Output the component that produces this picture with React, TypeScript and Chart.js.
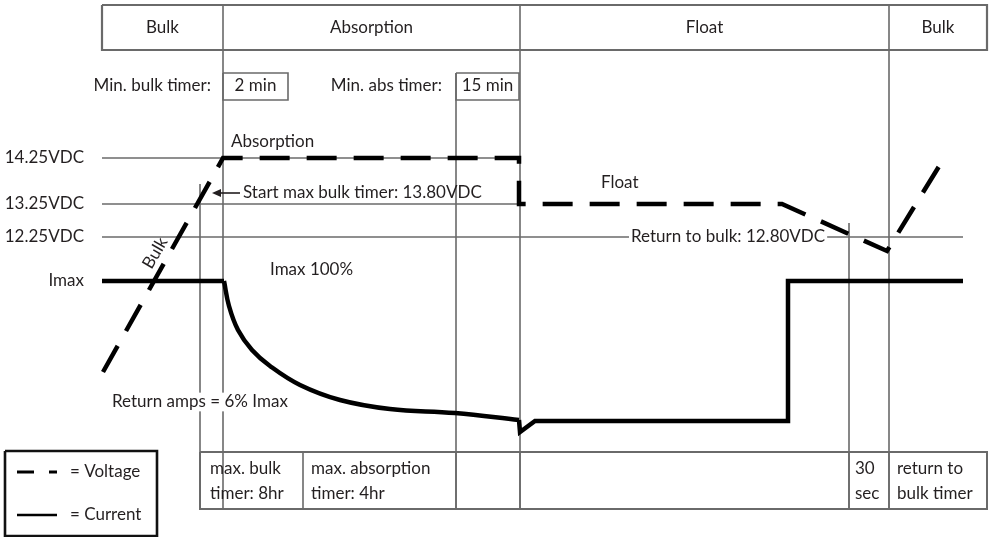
import React, { useEffect, useRef } from "react";
import { Chart, registerables } from "chart.js";
Chart.register(...registerables);

const W = 992;
const H = 537;

// ---- diagram data (time axis t, level axis v; both in diagram units) ----
const phaseNames = ["Bulk", "Absorption", "Float", "Bulk"];
const phaseEdges = [102, 223, 520, 889, 987];
const phaseBandV = [5, 50];

const levelLabels = ["14.25VDC", "13.25VDC", "12.25VDC", "Imax"];
const levelV = [158, 204, 237, 281];
const levelLineStart = [102, 102, 102, null];
const levelLineEnd = [520, 520, 963, null];

const voltageT = [103, 223, 519, 519, 782, 887, 946];
const voltageV = [372, 158, 158, 204, 204, 251, 155];

const currentFlatT = [102, 224];
const currentFlatV = [281, 281];
const currentDecayT = [224, 229, 238, 252, 270, 300, 340, 390, 455, 519];
const currentDecayV = [281, 306, 330, 350, 366, 385, 400, 409, 413, 420];
const currentFloatT = [519, 520, 535, 788, 788, 963];
const currentFloatV = [420, 432, 421, 421, 281, 281];

const markerT = [200, 223, 456, 520, 849, 889];
const markerTopV = [184, 5, 73, 5, 223, 5];
const markerBottomV = 509;

const timerLabels = ["Min. bulk timer:", "Min. abs timer:"];
const timerValues = ["2 min", "15 min"];
const timerBoxT = [[223, 288], [456, 519]];
const timerBoxV = [73, 100];

const bottomBoxT = [200, 987];
const bottomBoxV = [452, 509];
const bottomDividersT = [303, 456, 520, 849, 889];
const bottomCells = [
  ["max. bulk", "timer: 8hr"],
  ["max. absorption", "timer: 4hr"],
  ["30", "sec"],
  ["return to", "bulk timer"],
];
const bottomCellT = [210, 311, 855, 897];

const legendBoxT = [5, 157];
const legendBoxV = [451, 536];
const legendLabels = ["= Voltage", "= Current"];

const TEXT = "#231f20";
const GRID = "#6a6a6a";
const FONT = "Lato, 'Open Sans', sans-serif";

const pts = (t: number[], v: number[]) => t.map((x, i) => ({ x, y: v[i] }));
const rect = (t: number[], v: number[]) => [
  { x: t[0], y: v[0] },
  { x: t[1], y: v[0] },
  { x: t[1], y: v[1] },
  { x: t[0], y: v[1] },
  { x: t[0], y: v[0] },
];

type Label = {
  text: string;
  t: number;
  v: number;
  align?: CanvasTextAlign;
  bg?: boolean;
  rot?: number;
  size?: number;
};

const labels: Label[] = [
  ...phaseNames.map((n, i) => ({ text: n, t: (phaseEdges[i] + phaseEdges[i + 1]) / 2, v: 28, align: "center" as CanvasTextAlign })),
  ...levelLabels.map((n, i) => ({ text: n, t: 84, v: levelV[i], align: "right" as CanvasTextAlign })),
  { text: timerLabels[0], t: 211, v: 86, align: "right" },
  { text: timerLabels[1], t: 442, v: 86, align: "right" },
  ...timerValues.map((n, i) => ({ text: n, t: (timerBoxT[i][0] + timerBoxT[i][1]) / 2, v: 86, align: "center" as CanvasTextAlign })),
  { text: "Absorption", t: 231, v: 142, align: "left" },
  { text: "Start max bulk timer: 13.80VDC", t: 243, v: 193, align: "left" },
  { text: "Float", t: 601, v: 183, align: "left" },
  { text: "Return to bulk: 12.80VDC", t: 631, v: 237, align: "left", bg: true },
  { text: "Imax 100%", t: 270, v: 270, align: "left" },
  { text: "Return amps = 6% Imax", t: 112, v: 402, align: "left", bg: true },
  { text: "Bulk", t: 155, v: 253, align: "center", rot: -60 },
  ...bottomCells.flatMap((c, i) => [
    { text: c[0], t: bottomCellT[i], v: 469, align: "left" as CanvasTextAlign },
    { text: c[1], t: bottomCellT[i], v: 494, align: "left" as CanvasTextAlign },
  ]),
  { text: legendLabels[0], t: 70, v: 472, align: "left" },
  { text: legendLabels[1], t: 70, v: 515, align: "left" },
];

const textPlugin = {
  id: "diagramText",
  afterDatasetsDraw(chart: any) {
    const { ctx, scales } = chart;
    const sx = scales.x;
    const sy = scales.y;
    ctx.save();
    // arrow for "Start max bulk timer"
    const ay = sy.getPixelForValue(193);
    const ax0 = sx.getPixelForValue(240);
    const ax1 = sx.getPixelForValue(212);
    ctx.strokeStyle = TEXT;
    ctx.fillStyle = TEXT;
    ctx.lineWidth = 1.6;
    ctx.beginPath();
    ctx.moveTo(ax0, ay);
    ctx.lineTo(ax1 + 6, ay);
    ctx.stroke();
    ctx.beginPath();
    ctx.moveTo(ax1, ay);
    ctx.lineTo(ax1 + 9, ay - 4);
    ctx.lineTo(ax1 + 9, ay + 4);
    ctx.closePath();
    ctx.fill();

    for (const l of labels) {
      const size = l.size ?? 17;
      ctx.font = `${size}px ${FONT}`;
      ctx.textAlign = l.align ?? "left";
      ctx.textBaseline = "middle";
      const x = sx.getPixelForValue(l.t);
      const y = sy.getPixelForValue(l.v);
      ctx.save();
      ctx.translate(x, y);
      if (l.rot) ctx.rotate((l.rot * Math.PI) / 180);
      if (l.bg) {
        const w = ctx.measureText(l.text).width;
        const left = l.align === "center" ? -w / 2 : l.align === "right" ? -w : 0;
        ctx.fillStyle = "#ffffff";
        ctx.fillRect(left - 2, -size * 0.55, w + 4, size * 1.1);
      }
      ctx.fillStyle = TEXT;
      ctx.fillText(l.text, 0, 0);
      ctx.restore();
    }
    ctx.restore();
  },
};

export default function App() {
  const ref = useRef<HTMLCanvasElement | null>(null);

  useEffect(() => {
    if (!ref.current) return;
    const thin = (data: any[], width = 1.6, color = GRID) => ({
      data,
      borderColor: color,
      borderWidth: width,
      pointRadius: 0,
      tension: 0,
      fill: false,
      borderJoinStyle: "miter",
    });
    const thinSets: any[] = [];
    thinSets.push(thin(rect([phaseEdges[0], phaseEdges[4]], phaseBandV), 2.2));
    levelV.forEach((v, i) => {
      if (levelLineStart[i] != null)
        thinSets.push(thin([{ x: levelLineStart[i], y: v }, { x: levelLineEnd[i], y: v }]));
    });
    markerT.forEach((t, i) => {
      thinSets.push(thin([{ x: t, y: markerTopV[i] }, { x: t, y: markerBottomV }]));
    });
    timerBoxT.forEach((bt) => thinSets.push(thin(rect(bt, timerBoxV))));
    thinSets.push(thin(rect(bottomBoxT, bottomBoxV), 2));
    bottomDividersT.forEach((t) =>
      thinSets.push(thin([{ x: t, y: bottomBoxV[0] }, { x: t, y: bottomBoxV[1] }]))
    );
    thinSets.push(thin(rect(legendBoxT, legendBoxV), 2.6, "#111"));

    const thick = (data: any[], dash: number[] = [], extra: any = {}) => ({
      data,
      borderColor: "#000",
      borderWidth: 4.5,
      borderDash: dash,
      borderCapStyle: "butt",
      borderJoinStyle: "miter",
      pointRadius: 0,
      fill: false,
      tension: 0,
      ...extra,
    });

    const thickSets = [
      thick(pts(voltageT, voltageV), [30, 17]),
      thick(pts(currentFlatT, currentFlatV)),
      thick(pts(currentDecayT, currentDecayV), [], { tension: 0.4, borderJoinStyle: "round" }),
      thick(pts(currentFloatT, currentFloatV)),
      thick([{ x: 17, y: 472 }, { x: 34, y: 472 }], [], { borderWidth: 3 }),
      thick([{ x: 49, y: 472 }, { x: 57, y: 472 }], [], { borderWidth: 3 }),
      thick([{ x: 17, y: 515 }, { x: 57, y: 515 }], [], { borderWidth: 2.5 }),
    ];

    const chart = new Chart(ref.current, {
      type: "line",
      data: { datasets: [...thickSets, ...thinSets] as any },
      options: {
        animation: false,
        responsive: false,
        maintainAspectRatio: false,
        layout: { padding: 0 },
        parsing: false as any,
        normalized: true,
        plugins: { legend: { display: false }, tooltip: { enabled: false } },
        events: [],
        scales: {
          x: { type: "linear", min: 0, max: W, display: false },
          y: { type: "linear", min: 0, max: H, reverse: true, display: false },
        },
      },
      plugins: [textPlugin],
    });
    return () => chart.destroy();
  }, []);

  return (
    <div style={{ position: "absolute", left: 0, top: 0, width: W, height: H, background: "#fff" }}>
      <canvas ref={ref} width={W} height={H} style={{ width: W, height: H, display: "block" }} />
    </div>
  );
}
